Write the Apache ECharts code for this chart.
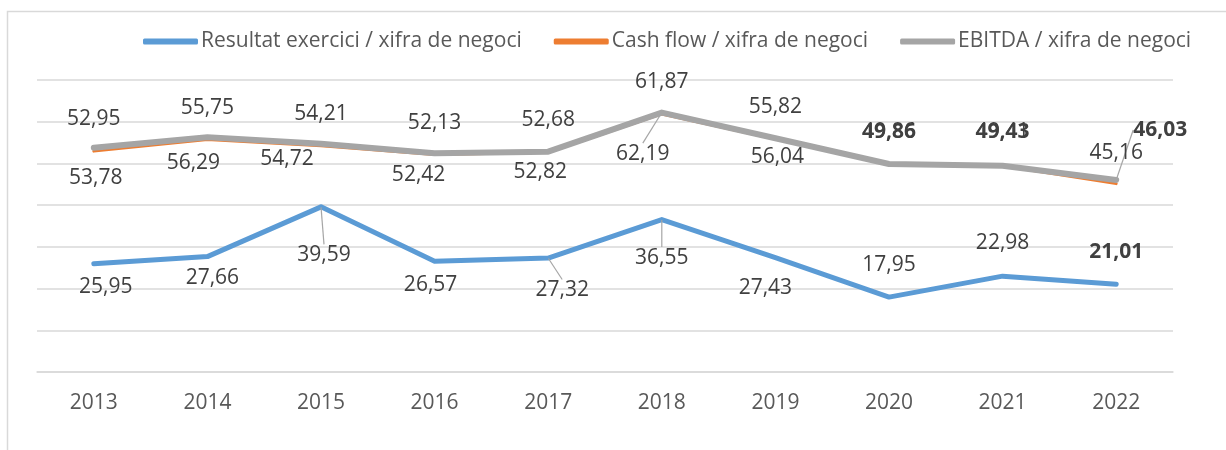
<!DOCTYPE html>
<html>
<head>
<meta charset="utf-8">
<script src="https://cdn.jsdelivr.net/npm/echarts@6/dist/echarts.min.js"></script>
<style>
    html, body { margin: 0; padding: 0; background: #fff; }
    #chart { width: 1226px; height: 450px; }
</style>
</head>
<body>
<div id="chart"></div>
<script>
    // dades
    var anys = ['2013', '2014', '2015', '2016', '2017', '2018', '2019', '2020', '2021', '2022'];
    var resultat = [25.95, 27.66, 39.59, 26.57, 27.32, 36.55, 27.43, 17.95, 22.98, 21.01];
    var cashFlow = [52.95, 55.75, 54.21, 52.13, 52.68, 61.87, 55.82, 49.86, 49.41, 45.16];
    var ebitda = [53.78, 56.29, 54.72, 52.42, 52.82, 62.19, 56.04, 49.86, 49.43, 46.03];

    // posicio de les etiquetes (desplaçament respecte al punt)
    var offResultat = [[12, 23], [5, 21], [3, 48], [-4, 24], [14, 32], [0, 38], [-10, 30], [0, -32], [0, -33], [0, -32]];
    var offCash = [[0, -32], [0, -31], [0, -32], [0, -32], [0, -32], [0, -32], [0, -32], [0, -32], [0, -34], [0, -31]];
    var offEbitda = [[2, 30], [-14, 26], [-34, 15], [-16, 22], [-8, 20], [-19, 41], [2, 19], [0, -32], [0, -34], [44, -50]];
    var guiaResultat = [2, 4, 5];
    var guiaEbitda = [5, 9];
    var boldResultat = [9];
    var boldEbitda = [7, 8, 9];

    var fontFam = '"Open Sans", "Noto Sans", sans-serif';

    function fmt(v) {
        return v.toFixed(2).replace('.', ',');
    }

    function buildData(values, guia, bold) {
        var out = [];
        for (var i = 0; i < values.length; i++) {
            var item = { value: values[i] };
            if (guia.indexOf(i) >= 0) {
                item.labelLine = { show: true, lineStyle: { color: '#a6a6a6', width: 1.2 } };
            }
            if (bold.indexOf(i) >= 0) {
                item.label = { fontWeight: 'bold' };
            }
            out.push(item);
        }
        return out;
    }

    function makeSeries(name, values, color, width, offsets, guia, bold) {
        return {
            name: name,
            type: 'line',
            data: buildData(values, guia, bold),
            symbol: 'circle',
            symbolSize: 1,
            itemStyle: { color: 'rgba(0,0,0,0)' },
            lineStyle: { color: color, width: width, cap: 'round', join: 'round' },
            label: {
                show: true,
                position: 'inside',
                color: '#404040',
                fontSize: 21,
                fontFamily: fontFam,
                formatter: function (p) { return fmt(p.value); }
            },
            labelLayout: function (p) {
                var o = offsets[p.dataIndex];
                return { dx: o[0], dy: o[1] };
            },
            emphasis: { disabled: true },
            animation: false
        };
    }

    var chart = echarts.init(document.getElementById('chart'));
    var option = {
        backgroundColor: '#fff',
        graphic: [{
            type: 'rect',
            shape: { x: 7.5, y: 11.5, width: 1400, height: 600 },
            style: { fill: 'none', stroke: '#d9d9d9', lineWidth: 1.5 },
            silent: true
        }],
        legend: {
            left: 143,
            top: 31,
            padding: 0,
            itemWidth: 55,
            itemHeight: 6,
            itemGap: 32,
            icon: 'roundRect',
            textStyle: { color: '#595959', fontSize: 21, fontFamily: fontFam, padding: [0, 0, 0, -2] },
            data: [
                { name: 'Resultat exercici / xifra de negoci', itemStyle: { color: '#5b9bd5' } },
                { name: 'Cash flow / xifra de negoci', itemStyle: { color: '#ed7d31' } },
                { name: 'EBITDA / xifra de negoci', itemStyle: { color: '#a5a5a5' } }
            ]
        },
        grid: { left: 37, right: 53, top: 80, bottom: 78 },
        xAxis: {
            type: 'category',
            data: anys,
            boundaryGap: true,
            axisLine: { lineStyle: { color: '#d9d9d9', width: 1.5 } },
            axisTick: { show: false },
            axisLabel: { color: '#595959', fontSize: 21, fontFamily: fontFam, margin: 21 }
        },
        yAxis: {
            type: 'value',
            min: 0,
            max: 70,
            interval: 10,
            axisLabel: { show: false },
            axisLine: { show: false },
            axisTick: { show: false },
            splitLine: { lineStyle: { color: '#d9d9d9', width: 1.5 } }
        },
        series: [
            makeSeries('Resultat exercici / xifra de negoci', resultat, '#5b9bd5', 5, offResultat, guiaResultat, boldResultat),
            makeSeries('Cash flow / xifra de negoci', cashFlow, '#ed7d31', 3, offCash, [], []),
            makeSeries('EBITDA / xifra de negoci', ebitda, '#a5a5a5', 6, offEbitda, guiaEbitda, boldEbitda)
        ]
    };
    chart.setOption(option);
</script>
</body>
</html>
